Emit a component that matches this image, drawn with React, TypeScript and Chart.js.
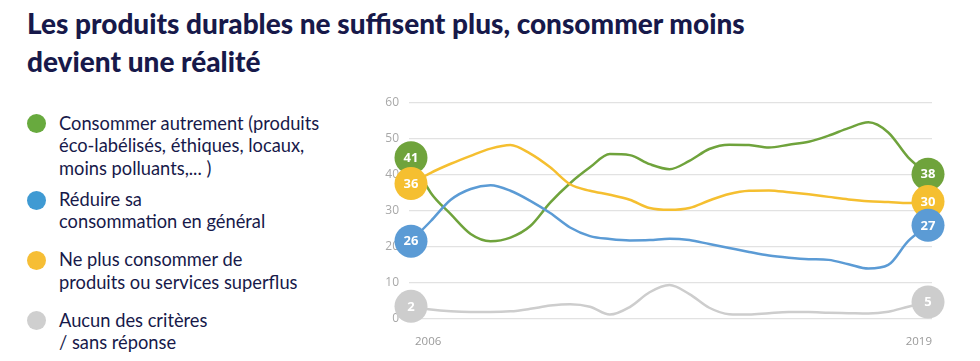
import React, { useEffect, useRef } from "react";
import { Chart, registerables } from "chart.js";

Chart.register(...registerables);

const TITLE_LINES = [
  "Les produits durables ne suffisent plus, consommer moins",
  "devient une réalité",
];

const years = [
  2006, 2006.5, 2007, 2007.5, 2008, 2008.5, 2009, 2009.5, 2010, 2010.5, 2011,
  2011.5, 2012, 2012.5, 2013, 2013.5, 2014, 2014.5, 2015, 2015.5, 2016, 2016.5,
  2017, 2017.5, 2018, 2018.5, 2019,
];
const xTickYears = [2006, 2019];
const yTicks = [0, 10, 20, 30, 40, 50, 60];

const greenValues = [
  44.6, 34.8, 28.9, 23.4, 21.4, 22.4, 25.6, 32.1, 37.5, 41.9, 45.6, 45.3, 42.8,
  41.4, 43.7, 47.0, 48.2, 48.1, 47.4, 48.2, 49.0, 50.7, 52.8, 54.4, 51.6, 44.7,
  40.0,
];
const blueValues = [
  21.4, 27.0, 32.9, 35.9, 36.9, 35.4, 32.6, 29.2, 25.2, 22.8, 22.0, 21.6, 21.7,
  22.1, 21.7, 20.6, 19.5, 18.4, 17.4, 16.8, 16.4, 16.2, 15.0, 13.8, 14.8, 21.4,
  25.8,
];
const yellowValues = [
  37.4, 40.4, 42.9, 45.1, 47.1, 48.1, 45.7, 41.9, 37.2, 35.4, 34.3, 32.9, 30.6,
  30.1, 30.6, 32.7, 34.5, 35.4, 35.5, 35.0, 34.4, 33.7, 33.0, 32.5, 32.3, 32.0,
  32.4,
];
const grayValues = [
  3.3, 2.4, 1.9, 1.7, 1.7, 1.9, 2.6, 3.5, 3.9, 3.2, 1.0, 3.1, 7.2, 9.2, 6.7, 2.9,
  1.1, 1.0, 1.4, 1.7, 1.7, 1.5, 1.4, 1.3, 1.8, 3.2, 4.5,
];

const seriesNames = [
  "Consommer autrement (produits éco-labélisés, éthiques, locaux, moins polluants,... )",
  "Réduire sa consommation en général",
  "Ne plus consommer de produits ou services superflus",
  "Aucun des critères / sans réponse",
];
const startLabels = [41, 26, 36, 2];
const endLabels = [38, 27, 30, 5];

const lineColors = ["#6fa33c", "#5b9bd5", "#f5bf30", "#cdcdcd"];
const legendDotColors = ["#68aa3e", "#3f9ad3", "#f6be35", "#cfcfcf"];

const legendLines = [
  ["Consommer autrement (produits", "éco-labélisés, éthiques, locaux,", "moins polluants,... )"],
  ["Réduire sa", "consommation en général"],
  ["Ne plus consommer de", "produits ou services superflus"],
  ["Aucun des critères", "/ sans réponse"],
];
const legendTops = [111.5, 187.8, 248, 308.8];
const legendDotCenters = [123.3, 200, 260.7, 320.7];

const endLabelPlugin = {
  id: "endLabels",
  afterDatasetDraw(chart: any, args: any) {
    const meta = args.meta;
    const ds: any = chart.data.datasets[args.index];
    const pts = meta.data;
    if (!pts || !pts.length) return;
    const ctx = chart.ctx;
    ctx.save();
    ctx.fillStyle = "#ffffff";
    ctx.font = "bold 13px 'Open Sans', sans-serif";
    ctx.textAlign = "center";
    ctx.textBaseline = "middle";
    const first = pts[0];
    const last = pts[pts.length - 1];
    ctx.fillText(String(ds.startLabel), first.x, first.y + 0.5);
    ctx.fillText(String(ds.endLabel), last.x, last.y + 0.5);
    ctx.restore();
  },
};

function LineChart() {
  const canvasRef = useRef<HTMLCanvasElement | null>(null);

  useEffect(() => {
    if (!canvasRef.current) return;
    const seriesValues = [greenValues, blueValues, yellowValues, grayValues];
    // drawing order: index 0 is drawn on top
    const order = [1, 2, 0, 3];
    const datasets = order.map((si) => ({
      label: seriesNames[si],
      data: years.map((y, i) => ({ x: y, y: seriesValues[si][i] })),
      borderColor: lineColors[si],
      backgroundColor: lineColors[si],
      borderWidth: 2.5,
      cubicInterpolationMode: "monotone" as const,
      pointRadius: (c: any) =>
        c.dataIndex === 0 || c.dataIndex === years.length - 1 ? 16.5 : 0,
      pointBorderWidth: 0,
      pointHoverRadius: 16.5,
      startLabel: startLabels[si],
      endLabel: endLabels[si],
      clip: false as any,
    }));

    const chart = new Chart(canvasRef.current, {
      type: "line",
      data: { datasets: datasets as any },
      options: {
        animation: false,
        responsive: true,
        maintainAspectRatio: false,
        events: [],
        layout: { padding: { top: 0, bottom: 0, right: 38, left: 0 } },
        plugins: {
          legend: { display: false },
          tooltip: { enabled: false },
        },
        scales: {
          x: {
            type: "linear",
            min: 2005.95,
            max: 2019.1,
            grid: { display: false, drawTicks: false },
            border: { display: false },
            afterBuildTicks: (scale: any) => {
              scale.ticks = xTickYears.map((v) => ({ value: v }));
            },
            ticks: {
              align: "inner",
              labelOffset: 4,
              padding: 17,
              color: "#9a9a9a",
              font: { family: "'Open Sans', sans-serif", size: 11.5 },
              callback: (v: any) => String(v),
              maxRotation: 0,
              autoSkip: false,
            },
          },
          y: {
            min: 0,
            max: 60,
            afterBuildTicks: (scale: any) => {
              scale.ticks = yTicks.map((v) => ({ value: v }));
            },
            afterFit: (scale: any) => {
              scale.width = 39;
            },
            grid: { color: "#e2e2e2", lineWidth: 1.2, drawTicks: false },
            border: { display: false },
            ticks: {
              padding: 10,
              color: "#a8a8a8",
              font: { family: "'Open Sans', sans-serif", size: 12 },
              callback: (v: any) => String(v),
            },
          },
        },
      },
      plugins: [endLabelPlugin],
    });
    return () => chart.destroy();
  }, []);

  return <canvas ref={canvasRef} />;
}

export default function App() {
  const navy = "#17194a";
  return (
    <div
      style={{
        position: "absolute",
        left: 0,
        top: 0,
        width: 980,
        height: 361,
        background: "#ffffff",
        overflow: "hidden",
      }}
    >
      <div
        style={{
          position: "absolute",
          left: 27,
          top: 4,
          color: navy,
          fontFamily: "Lato, 'Open Sans', sans-serif",
          fontWeight: 900,
          fontSize: 29,
          lineHeight: "37.7px",
          whiteSpace: "nowrap",
          transformOrigin: "0 0",
          transform: "scaleX(0.965)",
        }}
      >
        {TITLE_LINES.map((t, i) => (
          <div key={i}>{t}</div>
        ))}
      </div>

      {legendLines.map((lines, i) => (
        <React.Fragment key={i}>
          <div
            style={{
              position: "absolute",
              left: 36.5 - 9.5,
              top: legendDotCenters[i] - 9.5,
              width: 19,
              height: 19,
              borderRadius: "50%",
              background: legendDotColors[i],
            }}
          />
          <div
            style={{
              position: "absolute",
              left: 59,
              top: legendTops[i],
              color: navy,
              fontFamily: "Lato, 'Open Sans', sans-serif",
              fontSize: 18.3,
              lineHeight: "22.6px",
              whiteSpace: "nowrap",
            }}
          >
            {lines.map((l, j) => (
              <div key={j}>{l}</div>
            ))}
          </div>
        </React.Fragment>
      ))}

      <div
        style={{
          position: "absolute",
          left: 370,
          top: 84.5,
          width: 600,
          height: 281,
        }}
      >
        <LineChart />
      </div>
    </div>
  );
}
